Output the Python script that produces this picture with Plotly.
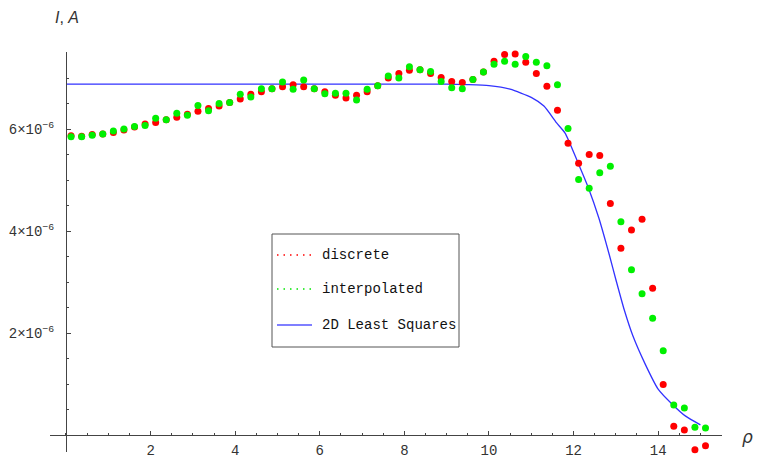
import numpy as np
import plotly.graph_objects as go

# ---------------- data (I in units of 1e-6 A) ----------------
rho = [0.12, 0.37, 0.62, 0.87, 1.12, 1.37, 1.62, 1.87, 2.12, 2.37,
       2.62, 2.87, 3.12, 3.37, 3.62, 3.87, 4.12, 4.37, 4.62, 4.87,
       5.12, 5.37, 5.62, 5.87, 6.12, 6.37, 6.62, 6.87, 7.12, 7.37,
       7.62, 7.87, 8.12, 8.37, 8.62, 8.87, 9.12, 9.37, 9.62, 9.87,
       10.12, 10.37, 10.62, 10.87, 11.12, 11.37, 11.62, 11.87, 12.12, 12.37,
       12.62, 12.87, 13.12, 13.37, 13.62, 13.87, 14.12, 14.37, 14.62, 14.87,
       15.12]

discrete = [5.87, 5.86, 5.89, 5.90, 5.93, 5.98, 6.04, 6.10, 6.13, 6.18,
            6.23, 6.29, 6.35, 6.40, 6.45, 6.52, 6.59, 6.68, 6.73, 6.79,
            6.83, 6.87, 6.83, 6.79, 6.73, 6.66, 6.61, 6.66, 6.73, 6.85,
            7.00, 7.09, 7.15, 7.16, 7.09, 7.01, 6.93, 6.91, 6.97, 7.12,
            7.33, 7.46, 7.47, 7.31, 7.09, 6.84, 6.37, 5.72, 5.33, 5.50,
            5.48, 4.54, 3.66, 4.02, 4.23, 2.88, 0.99, 0.17, 0.10, -0.29,
            -0.21]

interpolated = [5.85, 5.85, 5.88, 5.90, 5.96, 6.00, 6.05, 6.07, 6.21, 6.18,
                6.31, 6.27, 6.46, 6.36, 6.50, 6.52, 6.68, 6.63, 6.79, 6.79,
                6.92, 6.78, 6.96, 6.79, 6.69, 6.70, 6.70, 6.57, 6.78, 6.85,
                7.04, 7.00, 7.22, 7.16, 7.13, 6.93, 6.81, 6.79, 6.97, 7.12,
                7.27, 7.33, 7.27, 7.42, 7.31, 7.24, 6.87, 6.01, 5.01, 4.84,
                5.14, 5.27, 4.18, 3.24, 2.77, 2.29, 1.65, 0.59, 0.53, 0.15,
                0.14]

fit_rho = [0.0, 2.0, 4.0, 6.0, 8.0, 9.0, 9.5, 10.0, 10.5, 11.0,
           11.3, 11.6, 11.8, 12.1, 12.35, 12.6, 12.85, 13.0, 13.2, 13.4,
           13.7, 14.0, 14.35, 14.65, 15.0]
fit_I = [6.88, 6.88, 6.88, 6.88, 6.88, 6.88, 6.87, 6.85, 6.78, 6.62,
         6.45, 6.12, 5.92, 5.35, 4.85, 4.25, 3.52, 3.05, 2.45, 1.95,
         1.38, 0.90, 0.59, 0.37, 0.20]

x_tick_vals = [2, 4, 6, 8, 10, 12, 14]
y_tick_vals = [2, 4, 6]
legend_names = ["discrete", "interpolated", "2D Least Squares"]

SCALE = 1e-6

# ---------------- figure ----------------
W, H = 763, 457
ML, MR, MT, MB = 50, 41, 52, 5
x_range = [-0.378, 15.51]
y_range = [-0.333 * SCALE, 7.51 * SCALE]

MONO = "Liberation Mono"

fig = go.Figure()
fig.add_trace(go.Scatter(
    x=fit_rho, y=np.array(fit_I) * SCALE, mode="lines", name=legend_names[2],
    line=dict(color="rgb(50,50,255)", width=1.3, shape="spline", smoothing=0.6),
    showlegend=False))
fig.add_trace(go.Scatter(
    x=rho, y=np.array(discrete) * SCALE, mode="markers", name=legend_names[0],
    marker=dict(color="rgb(255,0,0)", size=7), cliponaxis=False, showlegend=False))
fig.add_trace(go.Scatter(
    x=rho, y=np.array(interpolated) * SCALE, mode="markers", name=legend_names[1],
    marker=dict(color="rgb(0,240,0)", size=7), cliponaxis=False, showlegend=False))

axis_color = "#444444"
tick_font = dict(family=MONO, size=14, color="#333333")

x_pos = (0 - y_range[0]) / (y_range[1] - y_range[0])
y_pos = (0 - x_range[0]) / (x_range[1] - x_range[0])

fig.update_xaxes(
    range=x_range, showgrid=False, zeroline=False, showline=True, automargin=False,
    linecolor=axis_color, linewidth=1, anchor="free", position=x_pos,
    ticks="inside", ticklen=4, tickcolor=axis_color, tickwidth=1,
    tickmode="array", tickvals=x_tick_vals, ticktext=[str(v) for v in x_tick_vals],
    tickfont=tick_font, ticklabelstandoff=2,
    minor=dict(tickmode="linear", tick0=0, dtick=0.5, ticklen=2, ticks="inside",
               tickcolor=axis_color, showgrid=False),
)
fig.update_yaxes(
    range=y_range, showgrid=False, zeroline=False, showline=True, automargin=False,
    linecolor=axis_color, linewidth=1, anchor="free", position=y_pos,
    ticks="inside", ticklen=4, tickcolor=axis_color, tickwidth=1,
    tickmode="array", tickvals=[v * SCALE for v in y_tick_vals],
    ticktext=[f"{v}\u00d710<sup>\u22126</sup>" for v in y_tick_vals],
    tickfont=tick_font, ticklabelstandoff=9,
    minor=dict(tickmode="linear", tick0=0, dtick=0.5 * SCALE, ticklen=2, ticks="inside",
               tickcolor=axis_color, showgrid=False),
)

pw, ph = W - ML - MR, H - MT - MB
def px2paper(px, py):
    return (px - ML) / pw, (H - MB - py) / ph

# axis labels
ax, ay = px2paper(67, 17)
fig.add_annotation(x=ax, y=ay, xref="paper", yref="paper", text="<i>I</i>, <i>A</i>",
                   showarrow=False, xanchor="center", yanchor="middle",
                   font=dict(family="Liberation Sans", size=16, color="#333333"))
rx, ry = px2paper(747, 437)
fig.add_annotation(x=rx, y=ry, xref="paper", yref="paper", text="<i>\u03c1</i>",
                   showarrow=False, xanchor="center", yanchor="middle",
                   font=dict(family="DejaVu Sans", size=17, color="#333333"))

# legend (drawn manually to match box layout)
bx0, by0 = px2paper(272, 347)
bx1, by1 = px2paper(459, 234)
fig.add_shape(type="rect", xref="paper", yref="paper", x0=bx0, y0=by0, x1=bx1, y1=by1,
              line=dict(color="#555555", width=1), fillcolor="white", layer="above")
leg_styles = [
    dict(color="rgb(255,0,0)", width=1.5, dash="1.5px,5px"),
    dict(color="rgb(0,230,0)", width=1.5, dash="1.5px,5px"),
    dict(color="rgb(0,0,255)", width=1.2, dash="solid"),
]
for i, (name, py) in enumerate(zip(legend_names, [255, 289, 325])):
    lx0, ly = px2paper(277, py)
    lx1, _ = px2paper(312, py)
    fig.add_shape(type="line", xref="paper", yref="paper", x0=lx0, x1=lx1, y0=ly, y1=ly,
                  line=leg_styles[i], layer="above")
    tx, _ = px2paper(320, py)
    fig.add_annotation(x=tx, y=ly, xref="paper", yref="paper", text=name, showarrow=False,
                       xanchor="left", yanchor="middle",
                       font=dict(family=MONO, size=14, color="#111111"))

fig.update_layout(
    width=W, height=H, autosize=False,
    margin=dict(l=ML, r=MR, t=MT, b=MB, pad=0, autoexpand=False),
    paper_bgcolor="white", plot_bgcolor="white",
    showlegend=False,
)

fig.write_html("out.html")
